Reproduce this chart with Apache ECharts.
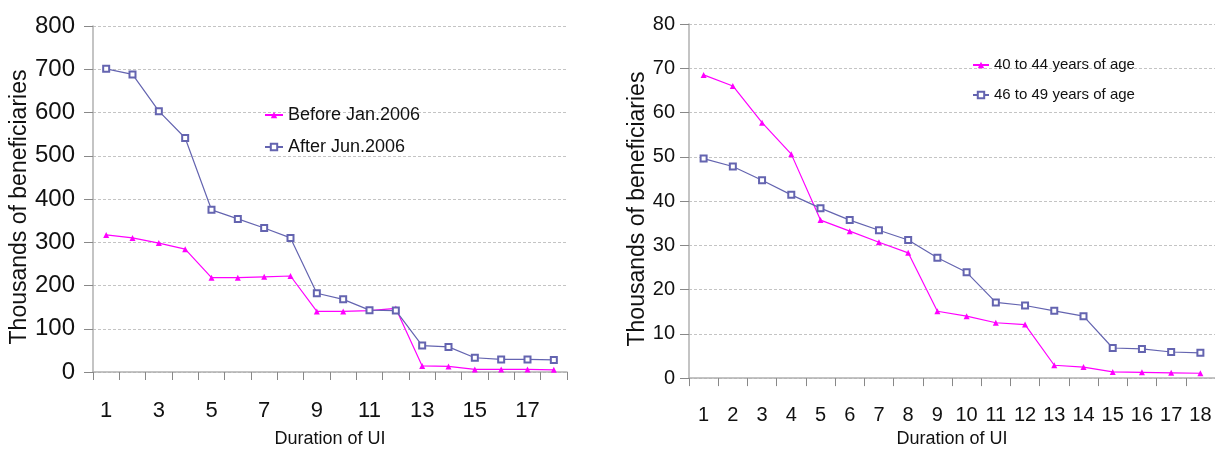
<!DOCTYPE html>
<html>
<head>
<meta charset="utf-8">
<script src="https://cdn.jsdelivr.net/npm/echarts@6/dist/echarts.min.js"></script>
<style>html,body{margin:0;padding:0;background:#fff;}#c{width:1215px;height:453px;}</style>
</head>
<body>
<div id="c"></div>
<script>
const durations = ['1','2','3','4','5','6','7','8','9','10','11','12','13','14','15','16','17','18'];
const beforeJan2006 = [317,310,298,284,218,218,220,222,140,140,142,147,14,13,6,6,6,5];
const afterJun2006 = [701,688,603,541,375,354,333,310,182,168,143,142,61,58,33,29,29,28];
const age40to44 = [68.5,66,57.7,50.6,35.7,33.2,30.7,28.3,15.1,14.0,12.5,12.1,2.9,2.5,1.4,1.3,1.2,1.1];
const age46to49 = [49.6,47.8,44.7,41.4,38.4,35.7,33.4,31.2,27.2,23.9,17.1,16.4,15.2,14.0,6.8,6.6,5.9,5.7];
const leftYTicks = {min:0, max:800, interval:100};
const rightYTicks = {min:0, max:80, interval:10};

const SANS = '"Liberation Sans", Arial, sans-serif';
const PINK = '#ff00ff';
const BLUE = '#6464b0';
const AXIS = '#b0b0b0';

function xAxis(idx, fs, interval, margin, nameGap){
  return {
    type:'category', gridIndex:idx, data:durations, boundaryGap:true,
    axisLine:{lineStyle:{color:AXIS, width:1.5}},
    axisTick:{show:true, interval:0, length:8, lineStyle:{color:'#888'}},
    axisLabel:{interval:interval, fontSize:fs, fontFamily:SANS, color:'#111', margin:margin},
    name:'Duration of UI', nameLocation:'middle', nameGap:nameGap,
    nameTextStyle:{fontSize:18, fontFamily:SANS, color:'#111'}
  };
}
function yAxis(idx, t, fs, margin, nameGap){
  return {
    type:'value', gridIndex:idx, min:t.min, max:t.max, interval:t.interval,
    axisLine:{show:true, lineStyle:{color:AXIS, width:1.5}},
    axisTick:{show:true, length:9, lineStyle:{color:'#888'}},
    axisLabel:{fontSize:fs, fontFamily:SANS, color:'#111', margin:margin},
    splitLine:{show:true, lineStyle:{color:'#c4c4c4', type:[3,2], width:1}},
    name:'Thousands of beneficiaries', nameLocation:'middle', nameGap:nameGap, nameRotate:90,
    nameTextStyle:{fontSize:23, fontFamily:SANS, color:'#111', padding:[0,16,0,0]}
  };
}
function pinkSeries(name, data, xi, yi){
  return {name:name, type:'line', xAxisIndex:xi, yAxisIndex:yi, data:data,
    symbol:'triangle', symbolSize:6, itemStyle:{color:PINK}, lineStyle:{color:PINK, width:1.2}, animation:false};
}
function blueSeries(name, data, xi, yi){
  return {name:name, type:'line', xAxisIndex:xi, yAxisIndex:yi, data:data,
    symbol:'emptyRect', symbolSize:6, itemStyle:{color:BLUE}, lineStyle:{color:BLUE, width:1.2}, animation:false};
}

const chart = echarts.init(document.getElementById('c'));
chart.setOption({
  backgroundColor:'#fff',
  animation:false,
  grid:[
    {left:93, right:648, top:26, bottom:79},
    {left:689, right:0, top:24, bottom:70}
  ],
  xAxis:[xAxis(0, 22, 1, 28, 58), xAxis(1, 20, 0, 27, 50)],
  yAxis:[yAxis(0, leftYTicks, 24, 18, 56), yAxis(1, rightYTicks, 20, 14, 40)],
  legend:[
    {orient:'vertical', left:259, top:100, itemWidth:18, itemHeight:8, itemGap:12,
     textStyle:{fontSize:18, lineHeight:20, fontFamily:SANS, color:'#111'},
     data:['Before Jan.2006','After Jun.2006']},
    {orient:'vertical', left:967, top:51, itemWidth:16, itemHeight:8, itemGap:12,
     textStyle:{fontSize:15, lineHeight:18, fontFamily:SANS, color:'#111'},
     data:['40 to 44 years of age','46 to 49 years of age']}
  ],
  series:[
    pinkSeries('Before Jan.2006', beforeJan2006, 0, 0),
    blueSeries('After Jun.2006', afterJun2006, 0, 0),
    pinkSeries('40 to 44 years of age', age40to44, 1, 1),
    blueSeries('46 to 49 years of age', age46to49, 1, 1)
  ]
});
</script>
</body>
</html>
